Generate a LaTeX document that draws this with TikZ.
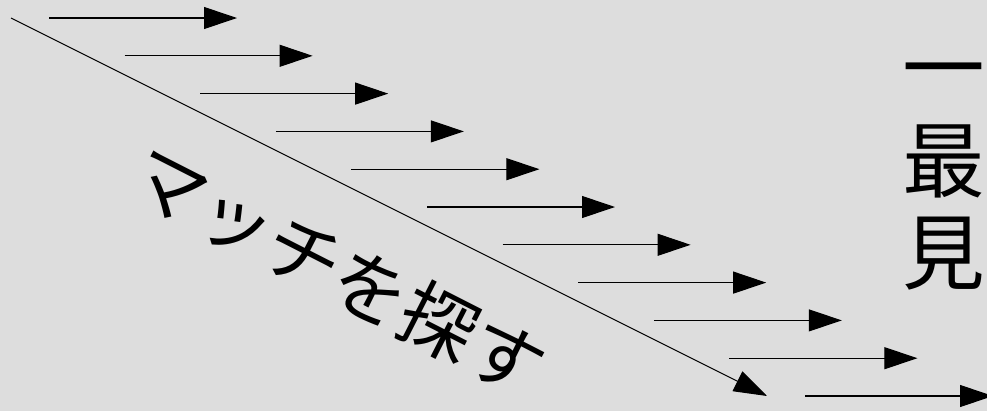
\documentclass[tikz,border=0pt]{standalone}
\usepackage{fontspec}
\newfontfamily\cjk{Noto Sans CJK JP}
\usetikzlibrary{arrows.meta, positioning}
\definecolor{bggray}{RGB}{221,221,221}

\begin{document}
\begin{tikzpicture}[
    shift arrow/.style={-{Triangle[length=0.66cm, width=0.44cm]}, line width=0.6pt},
    big text/.style={font=\cjk\fontsize{43}{53}\selectfont, inner sep=0pt},
    side text/.style={font=\cjk\fontsize{47}{53}\selectfont, inner sep=0pt, anchor=base west}
  ]
  % background, fixes the size
  \fill[bggray] (0,0) rectangle (19.74,-8.22);
  \clip (0,0) rectangle (19.74,-8.22);

  % shifted rows
  \foreach \i in {0,...,10} {
    \coordinate (s\i) at ({0.98+1.512*\i}, {-0.36-0.756*\i});
    \coordinate[right=3.76cm of s\i] (e\i);
    \draw[shift arrow] (s\i) -- (e\i);
  }

  % search direction
  \coordinate (d0) at (0.22,-0.36);
  \coordinate (d1) at (15.34,-7.92);
  \draw[shift arrow] (d0) -- (d1);
  \node[big text, rotate=-27] (search) at (6.76,-5.42) {マッチを探す};

  % cut-off text at the right
  \node[side text] (l1) at (18.04,-1.96) {一};
  \node[side text] (l2) at (18.04,-3.82) {最};
  \node[side text] (l3) at (18.04,-5.66) {見};
\end{tikzpicture}
\end{document}
